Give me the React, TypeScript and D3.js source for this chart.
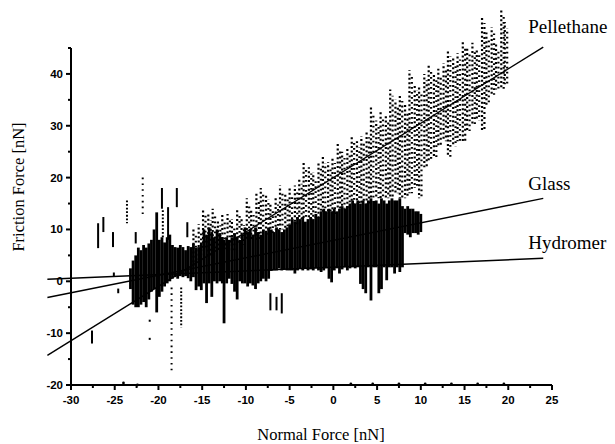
import React from 'react';
import * as d3 from 'd3';

// ---- axis ticks ----
const xTickValues = [-30, -25, -20, -15, -10, -5, 0, 5, 10, 15, 20, 25];
const xMinorTicks = [-27.5, -22.5, -17.5, -12.5, -7.5, -2.5, 2.5, 7.5, 12.5, 17.5, 22.5];
const yTickValues = [-20, -10, 0, 10, 20, 30, 40];
const yMinorTicks = [-15, -5, 5, 15, 25, 35, 45];

// ---- linear fits ----
const fitNames = ['Pellethane', 'Glass', 'Hydromer'];
const fitSlopes = [1.049, 0.337, 0.0714];
const fitIntercepts = [20.0, 7.9, 2.73];
const fitXStart = -32.7;
const fitXEnd = 24;

// ---- dense band (glass + hydromer measurements): column x, top, bottom ----
const bandX = [-23.2,-22.9,-22.6,-22.3,-22.0,-21.7,-21.4,-21.1,-20.8,-20.5,-20.2,-19.9,-19.6,-19.3,-19.0,-18.7,-18.4,-18.1,-17.8,-17.5,-17.2,-16.9,-16.6,-16.3,-16.0,-15.7,-15.4,-15.1,-14.8,-14.5,-14.2,-13.9,-13.6,-13.3,-13.0,-12.7,-12.5,-12.2,-11.9,-11.6,-11.3,-11.0,-10.7,-10.4,-10.1,-9.8,-9.5,-9.2,-8.9,-8.6,-8.3,-8.0,-7.7,-7.4,-7.1,-6.8,-6.5,-6.2,-5.9,-5.6,-5.3,-5.0,-4.7,-4.4,-4.1,-3.8,-3.5,-3.2,-2.9,-2.6,-2.3,-2.0,-1.7,-1.4,-1.1,-0.8,-0.5,-0.2,0.1,0.4,0.7,1.0,1.3,1.6,1.9,2.2,2.5,2.8,3.1,3.4,3.7,4.0,4.3,4.6,4.9,5.2,5.5,5.8,6.1,6.4,6.7,7.0,7.3,7.6,7.9,8.2,8.5,8.8,9.1,9.4,9.7,10.0];
const bandTop = [2.5,4,5,6.5,6,7,6.5,7.3,8,10,13.3,8,8.5,7.5,8.5,9,7,6.6,6.5,7,6.6,6,6.8,6.6,7.3,6.5,6.6,7.5,10,9,10.4,9.5,8.5,10,9.3,8.5,8,8.5,8,8.5,9.3,8.5,8,9,10.4,9.5,10,9,10.4,9.5,9,10,9.5,10.4,10,9.5,10.4,10,9.5,10,10.4,11,12,11.5,12.4,12,12.4,11.5,12,12.4,12,13,12.4,13.5,14,13.5,14,13.5,14,13.5,14,14.5,14,14.5,15,15.6,15,15.6,15,15.6,15,15.6,16,15.5,15.6,15,16,15.6,15,15.6,16,15.6,15.6,16,14.5,14,14.5,14,14,13.5,13.5,13];
const bandBottom = [-1.5,-4.5,-5,-5,-4.5,-4,-5,-3.5,-2,-1.5,-6,-3,-2,-1,-0.4,0,0.5,0.8,0.5,1,0.8,1,0.6,0,0.8,-1.7,-1,-1.7,-0.4,-4.2,-0.4,-3,0,-0.4,0,-0.4,-8.1,-0.4,0.5,-0.5,-2,-3.5,0,-0.4,-0.4,-1,-0.4,-0.8,-1.5,-0.4,0,0.5,0,0.5,2,2.1,2.1,2.5,2.1,2.3,2.1,2.1,2.1,1.5,2.1,2.5,2.1,2.5,2.1,2.3,2.1,2.5,2.1,1.8,2.1,2.5,0.5,-0.2,2.1,2.5,1.5,2.3,2.7,2.1,2.5,2.7,2.5,2.7,-0.5,-1.5,-2.3,2.7,-3.7,2.7,2.7,-2.3,-1.5,2.7,0.2,2.7,2.7,1.5,2.7,1.8,2.7,9.3,9,8.5,9.3,9.3,9,9.5];

// ---- pellethane measurements: column x, top, bottom ----
const pelX = [-16.0,-15.4,-14.9,-14.3,-13.8,-13.2,-12.7,-12.1,-11.6,-11.0,-10.5,-9.9,-9.4,-8.8,-8.3,-7.7,-7.2,-6.6,-6.1,-5.5,-5.0,-4.4,-3.9,-3.4,-2.8,-2.3,-1.7,-1.2,-0.6,-0.1,0.5,1.0,1.6,2.1,2.7,3.2,3.8,4.3,4.9,5.4,6.0,6.5,7.1,7.6,8.2,8.7,9.3,9.8,10.4,10.9,11.5,12.0,12.6,13.1,13.7,14.2,14.8,15.3,15.9,16.4,17.0,17.5,18.1,18.6,19.2,19.6];
const pelTop = [10,11,14,13,14,12,13,13,12,14,12,16,14,17,18,17,15,16,18.5,17,18,18.5,20,23,22,21,23,24,23,24,26.6,25,26,28,27,28,29,33.6,31,33,32,37,35,36,34,40.7,38,37.5,40,42,40,41,42,44.6,43,44,46.5,45,46,45,51,48,49,46,52.3,50];
const pelBottom = [3,4,6,5,6,6,6,7,6,7,7,8,8,8,9,9,9,10,10,10,11,11,12,12,12,12,12,13,13,13,14,14,14,15,15,15,15,16,16,16,16,16,17,16,16,17,18,16,22,23,24,26,27,24,26,27,27,29,30,31,29,34,36,37,37,38];

// ---- isolated streaks: x, top, bottom, style (0 solid, 1 dotted, 2 sparse) ----
const outX = [-27.6,-26.9,-26.3,-25.2,-25.1,-24.6,-23.6,-22.6,-21.8,-21.0,-21.0,-19.6,-19.5,-18.9,-18.5,-17.9,-17.4,-16.7,-7.2,-6.5,-5.9];
const outTop = [-9.5,11.2,12.4,9.5,1.7,-1.4,15.6,9.5,20,-7.4,-10.9,18,13.7,14.3,-1.2,18,-1.2,11.4,-2.3,-3,-2.3];
const outBottom = [-12,6.4,9.5,6.6,1.0,-2.3,11.2,7.3,12.4,-7.8,-11.3,14,8.5,8,-17.2,14.3,-8.9,8.5,-5.6,-5.6,-6.2];
const outStyle = [0,0,0,0,0,0,1,0,2,0,0,0,1,0,2,0,1,0,0,0,0];

// ---- points lying on the bottom axis ----
const axisDotsX = [-24, -22.4, 2, 4.5, 7.5, 10.5, 13.5, 16.5, 19.5];
const axisDotsY = [-19.6, -20, -19.8, -19.8, -19.8, -19.8, -19.8, -19.8, -19.8];

const W = 615;
const H = 444;

export default function App() {
  const x = d3.scaleLinear().domain([-30, 25]).range([71, 552]);
  const y = d3.scaleLinear().domain([-20, 45]).range([385, 48]);
  const serif = '"Liberation Serif", "Times New Roman", serif';
  const sans = '"Liberation Sans", Arial, sans-serif';
  const dashFor = (s: number) => (s === 0 ? undefined : s === 1 ? '1.8 1.8' : '1.6 4.2');
  const labelDy = [-14, -8, -9];

  return (
    <svg width={W} height={H} style={{ position: 'absolute', left: 0, top: 0, background: '#fff' }}>
      <rect x={0} y={0} width={W} height={H} fill="#fff" />
      {/* pellethane cloud */}
      <g stroke="#000" strokeWidth={2.2}>
        {pelX.map((v, i) => (
          <line key={'p' + i} x1={x(v)} x2={x(v)} y1={y(pelTop[i])} y2={y(pelBottom[i])}
            strokeDasharray="2 2.4" strokeDashoffset={(i * 1.3) % 4.4} />
        ))}
        {pelX.map((v, i) => (
          <line key={'q' + i} x1={x(v) + 2.4} x2={x(v) + 2.4} y1={y(pelTop[i] - 1.2)} y2={y(pelBottom[i])}
            strokeDasharray="1.8 3.2" strokeDashoffset={(i * 2.1) % 5} />
        ))}
      </g>
      {/* dense band */}
      <g stroke="#000" strokeWidth={2.8}>
        {bandX.map((v, i) => (
          <line key={'b' + i} x1={x(v)} x2={x(v)} y1={y(bandTop[i])} y2={y(bandBottom[i])} />
        ))}
      </g>
      {/* isolated streaks */}
      <g stroke="#000" strokeWidth={2}>
        {outX.map((v, i) => (
          <line key={'o' + i} x1={x(v)} x2={x(v)} y1={y(outTop[i])} y2={y(outBottom[i])}
            strokeDasharray={dashFor(outStyle[i])} />
        ))}
      </g>
      <g fill="#000">
        {axisDotsX.map((v, i) => (
          <circle key={'a' + i} cx={x(v)} cy={y(axisDotsY[i])} r={1.4} />
        ))}
      </g>
      {/* fit lines */}
      <g stroke="#000" strokeWidth={1.4} fill="none">
        {fitNames.map((n, i) => (
          <line key={n} x1={x(fitXStart)} y1={y(fitSlopes[i] * fitXStart + fitIntercepts[i])}
            x2={x(fitXEnd)} y2={y(fitSlopes[i] * fitXEnd + fitIntercepts[i])} />
        ))}
      </g>
      {fitNames.map((n, i) => (
        <text key={'l' + n} x={x(fitXEnd) - 15} y={y(fitSlopes[i] * fitXEnd + fitIntercepts[i]) + labelDy[i]}
          fontFamily={serif} fontSize={19} fill="#000">{n}</text>
      ))}
      {/* axes */}
      <g stroke="#000" strokeWidth={2} fill="none">
        <line x1={x(-30)} x2={x(25)} y1={y(-20)} y2={y(-20)} />
        <line x1={x(-30)} x2={x(-30)} y1={y(-20)} y2={y(45)} />
        {xTickValues.map((t) => <line key={'xt' + t} x1={x(t)} x2={x(t)} y1={y(-20)} y2={y(-20) + 5} />)}
        {xMinorTicks.map((t) => <line key={'xm' + t} x1={x(t)} x2={x(t)} y1={y(-20)} y2={y(-20) + 3} />)}
        {yTickValues.map((t) => <line key={'yt' + t} x1={x(-30) - 5} x2={x(-30)} y1={y(t)} y2={y(t)} />)}
        {yMinorTicks.map((t) => <line key={'ym' + t} x1={x(-30) - 3} x2={x(-30)} y1={y(t)} y2={y(t)} />)}
      </g>
      <g fontFamily={sans} fontWeight="bold" fontSize={11.5} fill="#000">
        {xTickValues.map((t) => (
          <text key={'xl' + t} x={x(t)} y={y(-20) + 19} textAnchor="middle">{String(t)}</text>
        ))}
        {yTickValues.map((t) => (
          <text key={'yl' + t} x={x(-30) - 8} y={y(t) + 4} textAnchor="end">{String(t)}</text>
        ))}
      </g>
      <text x={321} y={440} textAnchor="middle" fontFamily={serif} fontSize={16.5} fill="#000">Normal Force [nN]</text>
      <text transform={`translate(24,187) rotate(-90)`} textAnchor="middle" fontFamily={serif} fontSize={16.5} fill="#000">Friction Force [nN]</text>
    </svg>
  );
}
